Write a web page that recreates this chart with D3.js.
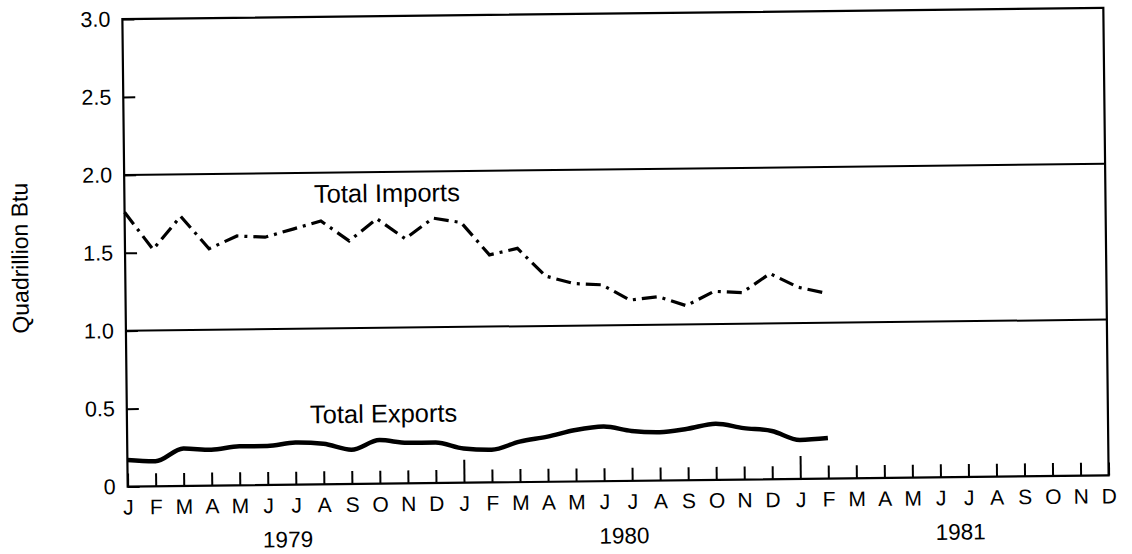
<!DOCTYPE html>
<html><head><meta charset="utf-8">
<script src="https://cdn.jsdelivr.net/npm/d3@7"></script>
<style>
body{margin:0;background:#fff}
svg{display:block}
text{font-family:"Liberation Sans",Arial,Helvetica,sans-serif;fill:#000}
</style>
</head><body>
<svg id="c" width="1132" height="554"></svg>
<script>
const monthLabels = ["J","F","M","A","M","J","J","A","S","O","N","D",
                     "J","F","M","A","M","J","J","A","S","O","N","D",
                     "J","F","M","A","M","J","J","A","S","O","N","D"];
const yearLabels = ["1979","1980","1981"];
const yTickValues = [0,0.5,1.0,1.5,2.0,2.5,3.0];
const yTickLabels = ["0","0.5","1.0","1.5","2.0","2.5","3.0"];
const gridValues = [1.0,2.0];
const importsValues = [1.76,1.52,1.73,1.52,1.60,1.59,1.64,1.69,1.56,1.70,1.57,1.70,
                       1.67,1.46,1.50,1.32,1.27,1.26,1.16,1.18,1.12,1.21,1.20,1.32,
                       1.23,1.19];
const exportsValues = [0.17,0.16,0.24,0.23,0.25,0.25,0.27,0.26,0.22,0.28,0.26,0.26,
                       0.22,0.21,0.26,0.29,0.33,0.35,0.32,0.31,0.33,0.36,0.33,0.31,
                       0.25,0.26];
const seriesNames = ["Total Imports","Total Exports"];
const yTitle = "Quadrillion Btu";

const svg = d3.select("#c");
const root = svg.append("g").attr("transform","rotate(-0.65,615.5,247)");

const x = d3.scaleLinear().domain([0, monthLabels.length-1]).range([125,1106]);
const y = d3.scaleLinear().domain([0,3]).range([481,13.5]);

// frame
root.append("rect")
  .attr("x", x(0)).attr("y", y(3))
  .attr("width", x(monthLabels.length-1)-x(0)).attr("height", y(0)-y(3))
  .attr("fill","none").attr("stroke","#000").attr("stroke-width",2.2);

// gridlines
root.selectAll("line.grid").data(gridValues).join("line")
  .attr("class","grid")
  .attr("x1", x(0)).attr("x2", x(monthLabels.length-1))
  .attr("y1", d=>y(d)).attr("y2", d=>y(d))
  .attr("stroke","#000").attr("stroke-width",2);

// y axis
const yAxis = d3.axisLeft(y).tickValues(yTickValues)
  .tickFormat((d,i)=>yTickLabels[i]).tickSize(-12).tickPadding(12);
root.append("g").attr("transform",`translate(${x(0)},0)`).call(yAxis)
  .call(g=>g.select(".domain").remove())
  .call(g=>g.selectAll(".tick line").attr("stroke","#000").attr("stroke-width",2))
  .call(g=>g.selectAll(".tick text").attr("font-size",21.5).attr("font-family",null).attr("fill","#000"));

// x axis
const xAxis = d3.axisBottom(x).tickValues(d3.range(monthLabels.length))
  .tickFormat(i=>monthLabels[i]).tickSize(-13).tickPadding(13);
root.append("g").attr("transform",`translate(0,${y(0)})`).call(xAxis)
  .call(g=>g.select(".domain").remove())
  .call(g=>g.selectAll(".tick line").attr("stroke","#000").attr("stroke-width",2)
      .attr("y2", d => (d%12===0 && d>0) ? -23 : -13))
  .call(g=>g.selectAll(".tick text").attr("font-size",21).attr("font-family",null).attr("fill","#000"));

// year labels
root.selectAll("text.year").data(yearLabels).join("text")
  .attr("class","year")
  .attr("x",(d,i)=>x(i*12+5.7)).attr("y",543.5)
  .attr("text-anchor","middle").attr("font-size",22.5).text(d=>d);

// y title
root.append("text")
  .attr("transform","translate(28,251.5) rotate(-90)")
  .attr("text-anchor","middle").attr("font-size",23).text(yTitle);

// lines
const line = d3.line().x((d,i)=>x(i)).y(d=>y(d));
root.append("path").datum(importsValues)
  .attr("d", line)
  .attr("fill","none").attr("stroke","#000").attr("stroke-width",3.2)
  .attr("stroke-dasharray","15,6,3,6");

const smooth = d3.line().x((d,i)=>x(i)).y(d=>y(d)).curve(d3.curveMonotoneX);
root.append("path").datum(exportsValues)
  .attr("d", smooth)
  .attr("fill","none").attr("stroke","#000").attr("stroke-width",4.5)
  .attr("stroke-linejoin","round");

// series labels
root.append("text").attr("x",314.5).attr("y",199.3)
  .attr("font-size",25.5).text(seriesNames[0]);
root.append("text").attr("x",308).attr("y",419.8)
  .attr("font-size",25.5).text(seriesNames[1]);
</script>
</body></html>
